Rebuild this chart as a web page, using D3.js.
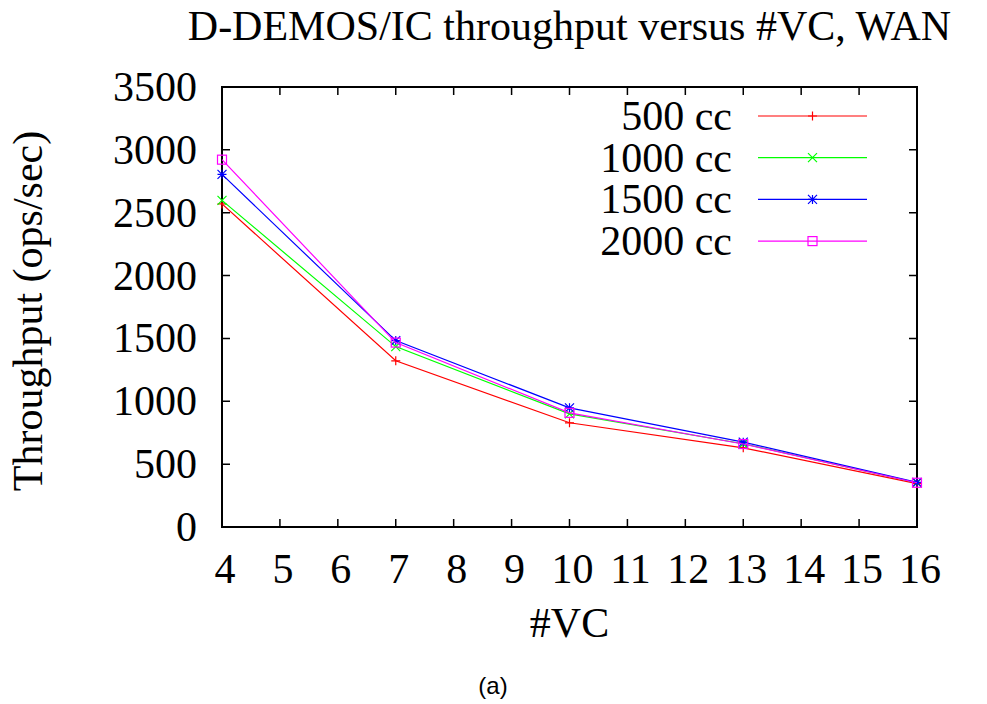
<!DOCTYPE html>
<html>
<head>
<meta charset="utf-8">
<script src="https://cdn.jsdelivr.net/npm/d3@7"></script>
<style>
  body { margin: 0; background: #fff; }
  text { font-family: "Liberation Serif", "Times New Roman", serif; }
</style>
</head>
<body>
<div id="chart"></div>
<script>
// data
var vcCounts = [4, 7, 10, 13, 16];
var seriesNames = ["500 cc", "1000 cc", "1500 cc", "2000 cc"];
var cc500 = [2570, 1322, 829, 630, 345];
var cc1000 = [2598, 1435, 900, 662, 352];
var cc1500 = [2805, 1483, 948, 675, 355];
var cc2000 = [2922, 1467, 908, 660, 352];
var xTicks = [4, 5, 6, 7, 8, 9, 10, 11, 12, 13, 14, 15, 16];
var yTicks = [0, 500, 1000, 1500, 2000, 2500, 3000, 3500];

var colors = ["#ff0000", "#00ff00", "#0000ff", "#ff00ff"];
var markers = ["plus", "cross", "star", "square"];
var allSeries = [cc500, cc1000, cc1500, cc2000];

var W = 987, H = 704;
var margin = {top: 87, right: 70, bottom: 177, left: 222};
var width = W - margin.left - margin.right,
    height = H - margin.top - margin.bottom;
var fs = 42;

var svg = d3.select("#chart").append("svg")
    .attr("width", W)
    .attr("height", H);

var g = svg.append("g")
    .attr("transform", "translate(" + margin.left + "," + margin.top + ")");

var x = d3.scaleLinear().domain([4, 16]).range([0, width]);
var y = d3.scaleLinear().domain([0, 3500]).range([height, 0]);

// frame
g.append("rect")
    .attr("width", width)
    .attr("height", height)
    .attr("fill", "none")
    .attr("stroke", "#000")
    .attr("stroke-width", 2);

var tickLen = 8;

// ticks on all four sides
g.selectAll(".xt").data(xTicks).enter().append("path")
    .attr("d", function(d) { return "M" + x(d) + "," + height + "v" + (-tickLen) + "M" + x(d) + ",0v" + tickLen; })
    .attr("stroke", "#000").attr("stroke-width", 1.5);
g.selectAll(".yt").data(yTicks).enter().append("path")
    .attr("d", function(d) { return "M0," + y(d) + "h" + tickLen + "M" + width + "," + y(d) + "h" + (-tickLen); })
    .attr("stroke", "#000").attr("stroke-width", 1.5);

// tick labels
g.selectAll(".xl").data(xTicks).enter().append("text")
    .attr("x", function(d) { return x(d) + 3; })
    .attr("y", height + 56)
    .attr("text-anchor", "middle")
    .attr("font-size", fs)
    .text(function(d) { return d; });
g.selectAll(".yl").data(yTicks).enter().append("text")
    .attr("x", -25)
    .attr("y", function(d) { return y(d) + 14; })
    .attr("text-anchor", "end")
    .attr("font-size", fs)
    .text(function(d) { return d; });

// axis titles
svg.append("text")
    .attr("x", margin.left + width / 2)
    .attr("y", 40)
    .attr("text-anchor", "middle")
    .attr("font-size", fs)
    .text("D-DEMOS/IC throughput versus #VC, WAN");
svg.append("text")
    .attr("x", margin.left + width / 2)
    .attr("y", 637)
    .attr("text-anchor", "middle")
    .attr("font-size", fs)
    .text("#VC");
svg.append("text")
    .attr("transform", "translate(42," + 311 + ") rotate(-90)")
    .attr("text-anchor", "middle")
    .attr("font-size", fs)
    .text("Throughput (ops/sec)");
svg.append("text")
    .attr("x", 493)
    .attr("y", 694)
    .attr("text-anchor", "middle")
    .attr("font-size", 24)
    .style("font-family", "'Liberation Sans', Arial, sans-serif")
    .text("(a)");

function drawMarker(sel, type, color) {
  var s = 4.5;
  if (type === "plus") {
    sel.append("path").attr("d", "M" + (-s) + ",0H" + s + "M0," + (-s) + "V" + s);
  } else if (type === "cross") {
    sel.append("path").attr("d", "M" + (-s) + "," + (-s) + "L" + s + "," + s + "M" + (-s) + "," + s + "L" + s + "," + (-s));
  } else if (type === "star") {
    sel.append("path").attr("d", "M" + (-s) + ",0H" + s + "M0," + (-s) + "V" + s +
      "M" + (-s) + "," + (-s) + "L" + s + "," + s + "M" + (-s) + "," + s + "L" + s + "," + (-s));
  } else {
    sel.append("rect").attr("x", -s).attr("y", -s).attr("width", 2 * s).attr("height", 2 * s);
  }
  sel.selectAll("path, rect").attr("fill", "none").attr("stroke", color).attr("stroke-width", 1.2);
}

var line = d3.line()
    .x(function(d, i) { return x(vcCounts[i]); })
    .y(function(d) { return y(d); });

allSeries.forEach(function(vals, k) {
  g.append("path")
      .datum(vals)
      .attr("d", line)
      .attr("fill", "none")
      .attr("stroke", colors[k])
      .attr("stroke-width", 1.2);
  vals.forEach(function(v, i) {
    var m = g.append("g").attr("transform", "translate(" + x(vcCounts[i]) + "," + y(v) + ")");
    drawMarker(m, markers[k], colors[k]);
  });
});

// legend
var legend = svg.append("g");
seriesNames.forEach(function(name, k) {
  var cy = 116 + k * 41.7;
  legend.append("text")
      .attr("x", 732)
      .attr("y", cy + 14)
      .attr("text-anchor", "end")
      .attr("font-size", fs)
      .text(name);
  legend.append("line")
      .attr("x1", 758).attr("x2", 867)
      .attr("y1", cy).attr("y2", cy)
      .attr("stroke", colors[k])
      .attr("stroke-width", 1.2);
  var m = legend.append("g").attr("transform", "translate(812.5," + cy + ")");
  drawMarker(m, markers[k], colors[k]);
});
</script>
</body>
</html>
